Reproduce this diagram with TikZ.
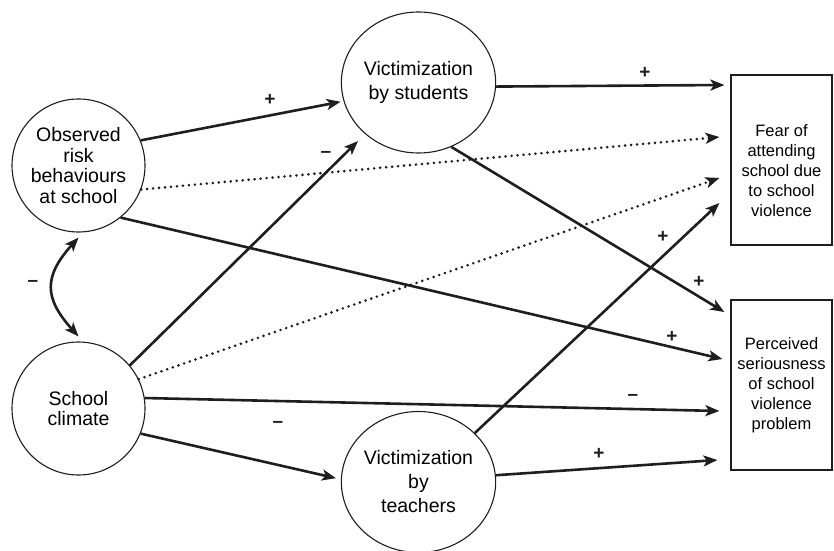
\documentclass[tikz,border=0pt]{standalone}
\usepackage{fontspec}
\setmainfont{Liberation Sans}
\usepackage{xcolor}
\usepackage{tikz}
\usetikzlibrary{arrows.meta, positioning, calc, shapes.geometric}
\definecolor{svink}{HTML}{1e1e1e}
\tikzset{
  factor/.style={draw=svink, line width=1.1pt, circle, inner sep=0pt, minimum size=133pt,
                 align=center, font=\fontsize{19.5}{20.5}\selectfont},
  victim/.style={draw=svink, line width=1.1pt, ellipse, inner sep=0pt, minimum width=153pt,
                 minimum height=141pt, align=center, font=\fontsize{19.5}{24}\selectfont},
  outcome/.style={draw=svink, line width=1.2pt, rectangle, inner sep=0pt, minimum width=101pt,
                  minimum height=170pt, align=center, font=\fontsize{16.5}{20}\selectfont},
  boxtext/.style={align=center, inner sep=0pt, font=\fontsize{16.5}{20}\selectfont},
  effect/.style={-{Stealth[length=14pt,width=11pt,inset=3.5pt]}, line width=2.6pt, draw=svink},
  weak/.style={effect, line cap=round, dash pattern=on 0pt off 6pt, line width=2.9pt},
  corr/.style={{Stealth[length=14pt,width=11pt,inset=3.5pt]}-{Stealth[length=14pt,width=11pt,inset=3.5pt]},
               line width=2.6pt, draw=svink},
  sign/.style={font=\fontsize{19}{19}\selectfont\bfseries, text=svink, inner sep=0pt}
}

\begin{document}
\begin{tikzpicture}[x=1pt, y=1pt]
    \useasboundingbox (0,0) rectangle (834,550);

    \node[factor] (risk) at (78.5,384.5) {Observed\\risk\\behaviours\\at school};
    \node[factor] (climate) at (78.5,141.5) {School\\climate};
    \node[victim] (bystud) at (418.5,467.5) {Victimization\\by students};
    \node[victim] (byteach) at (418.5,68) {Victimization\\by\\teachers};
    \node[outcome, label={[boxtext, yshift=-11pt]center:{Fear of\\attending\\school due\\to school\\violence}}]
      (fear) at (781.5,390) {};
    \node[outcome] (serious) at (781.5,165) {Perceived\\seriousness\\of school\\violence\\problem};

    \draw[effect, shorten >=3pt] (risk.22) -- (bystud.194);
    \draw[weak] (risk.-21) -- ([xshift=-11pt,yshift=23pt]fear.west);
    \draw[effect] (risk.-51) -- ([xshift=-8pt,yshift=26pt]serious.west);
    \draw[effect, shorten >=10pt] (climate.40) -- (bystud.224);
    \draw[weak] (climate.26) -- ([xshift=-11pt,yshift=-18pt]fear.west);
    \draw[effect] (climate.9) -- ([xshift=-11pt,yshift=-26pt]serious.west);
    \draw[effect, shorten >=5pt] (climate.-22) -- (byteach.178);
    \draw[effect] (bystud.-3) -- ([xshift=-6pt,yshift=75pt]fear.west);
    \draw[effect] (bystud.-63) -- ([xshift=-6pt,yshift=73pt]serious.west);
    \draw[effect] (byteach.41) -- ([xshift=-11pt,yshift=-43pt]fear.west);
    \draw[effect] (byteach.5) -- ([xshift=-13pt,yshift=-75pt]serious.west);
    \draw[corr] ([yshift=-5pt]risk.south) to[out=228, in=132, looseness=1.35]
      ([yshift=5pt]climate.north);

    \node[sign] (sgcorr) at (33,267) {--};
    \node[sign] (sgrs) at (270,450) {+};
    \node[sign] (sgcs) at (326,396) {--};
    \node[sign] (sgct) at (278,126) {--};
    \node[sign] (sgsf) at (645,477) {+};
    \node[sign] (sgtf) at (663,313) {+};
    \node[sign] (sgsp) at (699,268) {+};
    \node[sign] (sgrp) at (672,213) {+};
    \node[sign] (sgcp) at (633,153) {--};
    \node[sign] (sgtp) at (599,96) {+};
\end{tikzpicture}
\end{document}
